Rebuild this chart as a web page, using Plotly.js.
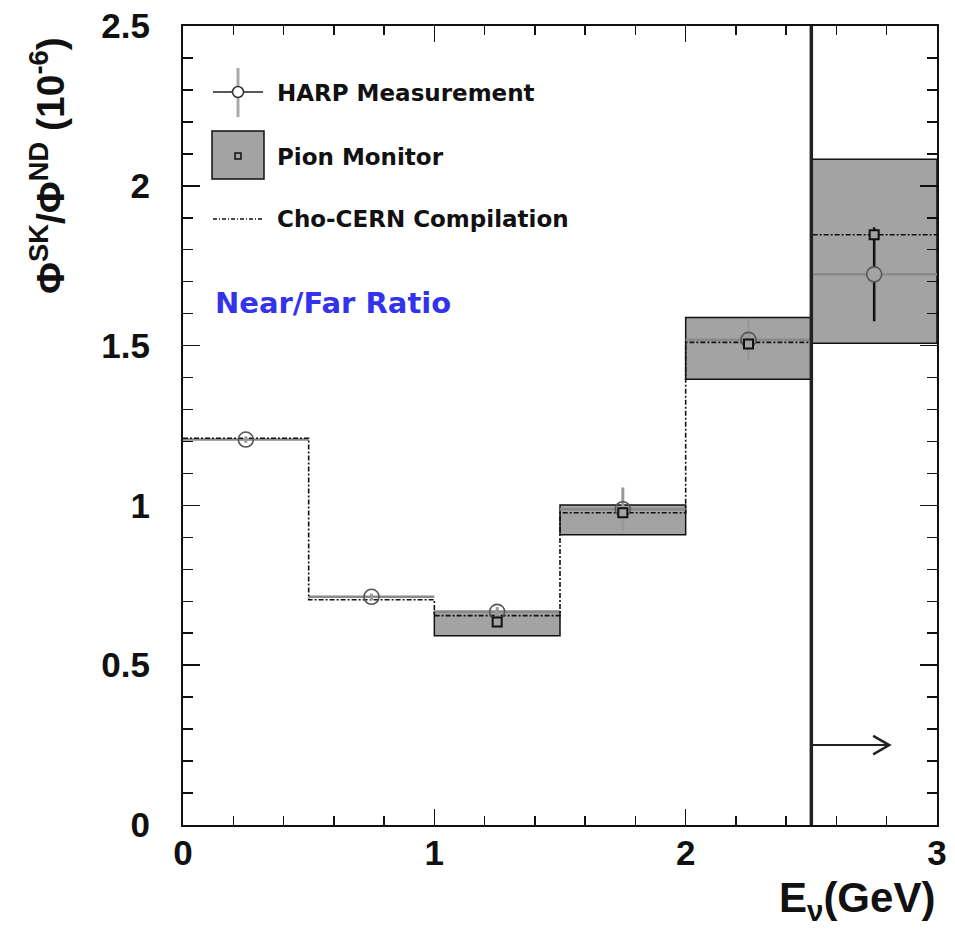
<!DOCTYPE html>
<html><head><meta charset="utf-8">
<script src="https://cdn.plot.ly/plotly-3.0.1.min.js"></script>
<style>html,body{margin:0;padding:0;background:#fff}#chart{width:955px;height:930px}</style>
</head><body><div id="chart"></div>
<script>
// ---- data ----
const binLo = [0.0, 0.5, 1.0, 1.5, 2.0, 2.5];
const binHi = [0.5, 1.0, 1.5, 2.0, 2.5, 3.0];
const harpVal = [1.206, 0.714, 0.667, 0.988, 1.518, 1.723];
const harpErr = [0.010, 0.010, 0.015, 0.068, 0.063, 0.147];
const choEdges = [0.0, 0.5, 1.0, 1.5, 2.0, 2.5, 3.0];
const choVal = [1.210, 0.705, 0.655, 0.977, 1.510, 1.847];
const pionCenter = [1.25, 1.75, 2.25, 2.75];
const pionVal = [0.635, 0.977, 1.505, 1.847];
const pionLo = [0.592, 0.908, 1.395, 1.507];
const pionHi = [0.668, 1.001, 1.588, 2.083];
const cutE = 2.5;          // energy cut line
const arrowY = 0.25;       // arrow height
const arrowTip = 2.81;     // arrow tip energy
const legendLabels = ["HARP Measurement", "Pion Monitor", "Cho-CERN Compilation"];
const noteText = "Near/Far Ratio";

// ---- derived ----
const harpCenter = binLo.map((l, i) => (l + binHi[i]) / 2);
const segX = [], segY = [];
binLo.forEach((l, i) => { segX.push(l, binHi[i], null); segY.push(harpVal[i], harpVal[i], null); });
const choY = choVal.concat([choVal[choVal.length - 1]]);
const n = harpVal.length;

const traces = [
  { type: 'bar', x: pionCenter, base: pionLo, y: pionHi.map((h, i) => h - pionLo[i]), width: 0.5,
    marker: { color: '#a3a3a3', line: { color: '#111', width: 1.5 } }, hoverinfo: 'skip' },
  { type: 'scatter', mode: 'lines', x: segX, y: segY, line: { color: '#8a8a8a', width: 2.5 }, connectgaps: false },
  { type: 'scatter', mode: 'lines', x: choEdges, y: choY, line: { shape: 'hv', color: '#111', width: 1.6, dash: '5px,2px,2px,2px' } },
  { type: 'scatter', mode: 'markers', x: harpCenter.slice(0, n - 1), y: harpVal.slice(0, n - 1),
    error_y: { type: 'data', array: harpErr.slice(0, n - 1), color: '#999', thickness: 3, width: 0 },
    marker: { symbol: 'circle', size: 15, color: 'rgba(255,255,255,0)', line: { color: '#555', width: 1.6 } } },
  { type: 'scatter', mode: 'markers', x: harpCenter.slice(n - 1), y: harpVal.slice(n - 1),
    error_y: { type: 'data', array: harpErr.slice(n - 1), color: '#111', thickness: 2.5, width: 0 },
    marker: { symbol: 'circle', size: 15, color: '#a3a3a3', line: { color: '#555', width: 1.6 } } },
  { type: 'scatter', mode: 'markers', x: pionCenter, y: pionVal,
    marker: { symbol: 'square', size: 9, color: '#a3a3a3', line: { color: '#111', width: 2 } } }
];

const P = (px) => (px - 183) / 754;
const Q = (py) => (825 - py) / 799;
const shapes = [
  { type: 'line', xref: 'x', yref: 'paper', x0: cutE, x1: cutE, y0: 0, y1: 1, line: { color: '#222', width: 3.5 }, layer: 'above' },
  { type: 'line', xref: 'x', yref: 'y', x0: cutE, x1: arrowTip, y0: arrowY, y1: arrowY, line: { color: '#222', width: 2 } },
  { type: 'path', xref: 'x', yref: 'y', path: `M ${arrowTip - 0.064} ${arrowY + 0.029} L ${arrowTip} ${arrowY} L ${arrowTip - 0.064} ${arrowY - 0.029}`, line: { color: '#222', width: 2.5 } },
  // legend: HARP
  { type: 'line', xref: 'paper', yref: 'paper', x0: P(213), x1: P(263), y0: Q(92), y1: Q(92), line: { color: '#222', width: 1.5 } },
  { type: 'line', xref: 'paper', yref: 'paper', x0: P(238), x1: P(238), y0: Q(68), y1: Q(117), line: { color: '#aaa', width: 3 } },
  { type: 'circle', xref: 'paper', yref: 'paper', x0: P(232.5), x1: P(243.5), y0: Q(86.5), y1: Q(97.5), fillcolor: '#fff', line: { color: '#333', width: 1.5 } },
  // legend: Pion
  { type: 'rect', xref: 'paper', yref: 'paper', x0: P(212), x1: P(264), y0: Q(131), y1: Q(179), fillcolor: '#a3a3a3', line: { color: '#111', width: 1.5 } },
  { type: 'rect', xref: 'paper', yref: 'paper', x0: P(235), x1: P(241), y0: Q(153), y1: Q(159), fillcolor: '#a3a3a3', line: { color: '#111', width: 1.5 } },
  // legend: Cho
  { type: 'line', xref: 'paper', yref: 'paper', x0: P(213), x1: P(263), y0: Q(219), y1: Q(219), line: { color: '#111', width: 1.5, dash: '4px,2px,1px,2px' } }
];

const legFont = { family: 'DejaVu Sans', size: 23, color: '#111', weight: 'bold' };
const annotations = [
  { xref: 'paper', yref: 'paper', x: P(275), y: Q(93), xanchor: 'left', yanchor: 'middle', text: legendLabels[0], showarrow: false, font: legFont },
  { xref: 'paper', yref: 'paper', x: P(275), y: Q(157), xanchor: 'left', yanchor: 'middle', text: legendLabels[1], showarrow: false, font: legFont },
  { xref: 'paper', yref: 'paper', x: P(275), y: Q(219), xanchor: 'left', yanchor: 'middle', text: legendLabels[2], showarrow: false, font: legFont },
  { xref: 'paper', yref: 'paper', x: P(213), y: Q(303), xanchor: 'left', yanchor: 'middle', text: noteText, showarrow: false,
    font: { family: 'DejaVu Sans', size: 29, color: '#3333ee', weight: 'bold' } },
  { xref: 'paper', yref: 'paper', x: (47 - 183) / 754, y: Q(166), xanchor: 'center', yanchor: 'middle', textangle: -90,
    text: 'Φ<sup>SK</sup>/Φ<sup>ND</sup> (10<sup>-6</sup>)', showarrow: false,
    font: { family: 'Liberation Sans', size: 39, color: '#111', weight: 'bold' } },
  { xref: 'paper', yref: 'paper', x: 1, y: Q(900), xanchor: 'right', yanchor: 'middle',
    text: 'E<sub>ν</sub>(GeV)', showarrow: false,
    font: { family: 'Liberation Sans', size: 42, color: '#111', weight: 'bold' } }
];

const tickFont = { family: 'Liberation Sans', size: 35, color: '#111', weight: 'bold' };
const layout = {
  width: 955, height: 930,
  margin: { l: 183, r: 18, t: 26, b: 105, pad: 0 },
  paper_bgcolor: '#fff', plot_bgcolor: '#fff',
  showlegend: false, barmode: 'overlay',
  xaxis: { range: [0, 3], dtick: 1, tick0: 0, ticks: 'inside', ticklen: 16, tickwidth: 1.5, tickcolor: '#111',
    showline: true, linecolor: '#111', linewidth: 2, mirror: 'allticks', showgrid: false, zeroline: false,
    minor: { dtick: 0.2, ticks: 'inside', ticklen: 9, tickwidth: 1.5, tickcolor: '#111', showgrid: false },
    tickfont: tickFont, ticklabelstandoff: -4 },
  yaxis: { range: [0, 2.5], dtick: 0.5, tick0: 0, ticks: 'inside', ticklen: 17, tickwidth: 1.5, tickcolor: '#111',
    showline: true, linecolor: '#111', linewidth: 2, mirror: 'allticks', showgrid: false, zeroline: false,
    minor: { dtick: 0.1, ticks: 'inside', ticklen: 10, tickwidth: 1.5, tickcolor: '#111', showgrid: false },
    tickfont: tickFont, ticklabelstandoff: 24 },
  shapes: shapes, annotations: annotations
};

Plotly.newPlot('chart', traces, layout, { staticPlot: true });
</script>
</body></html>
